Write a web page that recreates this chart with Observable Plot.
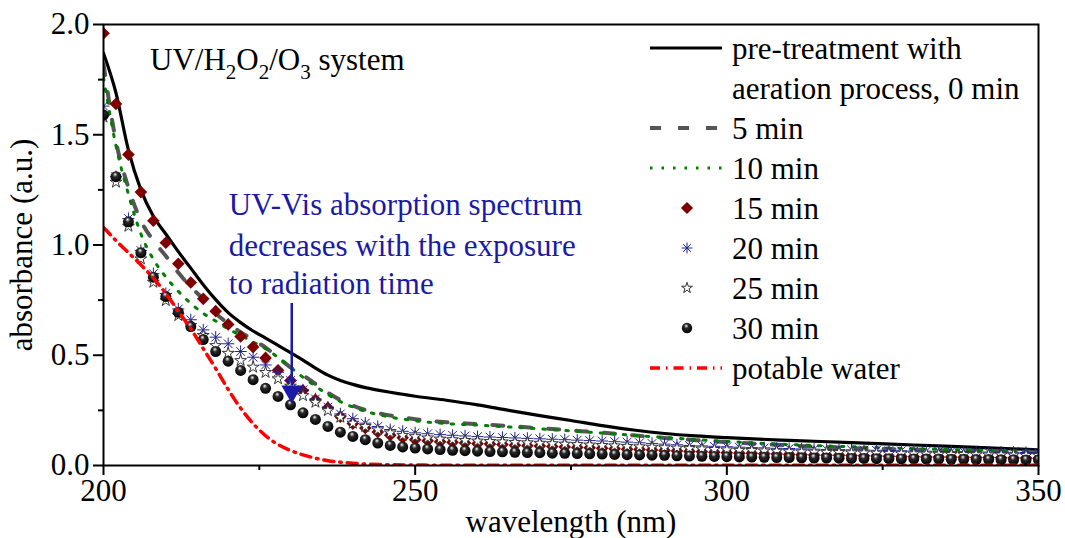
<!DOCTYPE html>
<html><head><meta charset="utf-8">
<script src="https://cdn.jsdelivr.net/npm/d3@7"></script>
<script src="https://cdn.jsdelivr.net/npm/@observablehq/plot@0.6"></script>
<style>body{margin:0;background:#fff;} #chart svg{display:block}</style>
</head><body><div id="chart"></div><script>
// ---- data ----
const wavelengthMarkers = [200,202,204,206,208,210,212,214,216,218,
  220,222,224,226,228,230,232,234,236,238,
  240,242,244,246,248,250,252,254,256,258,
  260,262,264,266,268,270,272,274,276,278,
  280,282,284,286,288,290,292,294,296,298,
  300,302,304,306,308,310,312,314,316,318,
  320,322,324,326,328,330,332,334,336,338,
  340,342,344,346,348,350];
const min15 = [1.96,1.64,1.41,1.24,1.11,1.01,0.915,0.83,0.756,0.70,
  0.64,0.585,0.537,0.488,0.432,0.385,0.34,0.298,0.262,0.222,
  0.19,0.17,0.152,0.137,0.126,0.117,0.112,0.108,0.105,0.102,
  0.099,0.097,0.095,0.092,0.09,0.088,0.086,0.084,0.082,0.08,
  0.078,0.076,0.074,0.072,0.07,0.068,0.066,0.064,0.062,0.06,
  0.058,0.056,0.055,0.053,0.052,0.05,0.049,0.048,0.047,0.046,
  0.045,0.044,0.043,0.042,0.041,0.04,0.039,0.039,0.038,0.037,
  0.036,0.036,0.035,0.034,0.034,0.033];
const min20 = [1.63,1.31,1.12,0.975,0.87,0.78,0.71,0.661,0.615,0.582,
  0.552,0.517,0.491,0.456,0.423,0.385,0.343,0.302,0.265,0.234,
  0.212,0.192,0.177,0.163,0.155,0.148,0.144,0.14,0.137,0.134,
  0.131,0.129,0.127,0.125,0.123,0.121,0.119,0.117,0.115,0.113,
  0.111,0.108,0.106,0.103,0.1,0.097,0.094,0.091,0.089,0.087,
  0.085,0.083,0.081,0.08,0.078,0.077,0.075,0.074,0.073,0.072,
  0.071,0.07,0.069,0.068,0.067,0.066,0.065,0.064,0.064,0.063,
  0.062,0.061,0.061,0.06,0.059,0.058];
const min25 = [1.58,1.285,1.085,0.937,0.831,0.748,0.68,0.635,0.59,0.544,
  0.509,0.476,0.446,0.422,0.393,0.36,0.317,0.287,0.249,0.219,
  0.192,0.177,0.162,0.148,0.137,0.131,0.125,0.12,0.117,0.114,
  0.111,0.109,0.107,0.105,0.103,0.101,0.099,0.097,0.095,0.093,
  0.091,0.089,0.087,0.085,0.083,0.081,0.079,0.077,0.075,0.073,
  0.071,0.069,0.068,0.066,0.065,0.063,0.062,0.061,0.06,0.059,
  0.058,0.057,0.056,0.055,0.054,0.053,0.052,0.051,0.05,0.05,
  0.049,0.048,0.048,0.047,0.046,0.046];
const min30 = [1.59,1.31,1.105,0.965,0.854,0.766,0.695,0.63,0.571,0.517,
  0.473,0.431,0.389,0.35,0.313,0.275,0.239,0.209,0.177,0.151,
  0.132,0.117,0.102,0.091,0.084,0.079,0.075,0.072,0.069,0.067,
  0.065,0.063,0.062,0.06,0.059,0.058,0.056,0.055,0.054,0.053,
  0.052,0.05,0.049,0.048,0.047,0.046,0.044,0.043,0.042,0.041,
  0.04,0.039,0.038,0.037,0.036,0.036,0.035,0.034,0.034,0.033,
  0.032,0.032,0.031,0.031,0.03,0.03,0.029,0.029,0.028,0.028,
  0.027,0.027,0.026,0.026,0.025,0.025];

const wavelengthLine0 = [200,202,204,206,208,210,212,214,216,218,220,222,224,226,228,230,232,234,236,238,240,242,244,246,248,250,255,260,265,270,275,280,285,290,295,300,310,320,330,340,350];
const min0 = [1.87,1.69,1.43,1.25,1.13,1.05,0.97,0.895,0.82,0.752,0.693,0.648,0.61,0.578,0.545,0.512,0.478,0.442,0.41,0.386,0.368,0.353,0.342,0.332,0.323,0.314,0.296,0.275,0.25,0.226,0.204,0.181,0.161,0.145,0.134,0.126,0.114,0.104,0.093,0.082,0.071];

const wavelengthLine5 = [200,202,204,206,208,210,212,214,216,218,220,222,224,226,228,230,232,234,236,238,240,242,245,250,255,260,265,270,275,280,285,290,295,300,310,320,330,340,350];
const min5 = [1.82,1.47,1.26,1.11,1.02,0.95,0.875,0.81,0.755,0.69,0.645,0.605,0.57,0.535,0.49,0.445,0.41,0.37,0.33,0.297,0.272,0.252,0.232,0.21,0.196,0.188,0.179,0.169,0.159,0.149,0.137,0.125,0.115,0.106,0.091,0.079,0.072,0.066,0.06];

const wavelengthLine10 = [200,202,204,206,208,210,212,214,216,218,220,222,224,226,228,230,232,234,236,238,240,245,250,255,260,270,280,290,300,310,320,330,340,350];
const min10 = [1.76,1.45,1.23,1.05,0.935,0.855,0.79,0.735,0.69,0.655,0.62,0.59,0.56,0.53,0.49,0.445,0.40,0.36,0.322,0.29,0.265,0.225,0.203,0.19,0.183,0.166,0.147,0.127,0.109,0.095,0.085,0.076,0.07,0.065];

const wavelengthPotable = [200,202,204,206,208,210,212,214,216,218,220,222,224,226,228,230,232,234,236,238,240,245,250,260,280,300,320,350];
const potable = [1.08,1.02,0.965,0.91,0.85,0.78,0.70,0.62,0.53,0.44,0.345,0.26,0.19,0.135,0.095,0.068,0.048,0.033,0.022,0.015,0.010,0.004,0.002,0.001,0.001,0.001,0.001,0.001];

const xTicks = [200, 250, 300, 350];
const xMinorTicks = [225, 275, 325];
const yTicks = [0, 0.5, 1.0, 1.5, 2.0];
const yMinorTicks = [0.25, 0.75, 1.25, 1.75];

const legendLabels = ["pre-treatment with", "aeration process, 0 min", "5 min", "10 min", "15 min", "20 min", "25 min", "30 min", "potable water"];
const annotationLines = ["UV-Vis absorption spectrum", "decreases with the exposure", "to radiation time"];
const annotationX = [220.1, 220.1, 220.1];
const annotationY = [1.134, 0.952, 0.776];
const arrowX = [230.2];
const arrowTop = [0.735];
const arrowBottom = [0.36];
const arrowHeadY = [0.336];

// ---- build tables ----
const zip = (xs, ys) => xs.map((x, i) => ({x, y: ys[i]}));
const d0 = zip(wavelengthLine0, min0);
const d5 = zip(wavelengthLine5, min5);
const d10 = zip(wavelengthLine10, min10);
const d15 = zip(wavelengthMarkers, min15);
const d20 = zip(wavelengthMarkers, min20);
const d25 = zip(wavelengthMarkers, min25);
const d30 = zip(wavelengthMarkers, min30);
const dPot = zip(wavelengthPotable, potable);
const annot = annotationLines.map((t, i) => ({t, x: annotationX[i], y: annotationY[i]}));
const arrow = arrowX.map((x, i) => ({x, y1: arrowTop[i], y2: arrowBottom[i], yh: arrowHeadY[i]}));

const BLUE = "#1a1aa6";
const ASTER = "#20209a";
const FONT = "'Liberation Serif', 'Times New Roman', serif";
const RED_DASH = "10,6,1.5,6";

const plot = Plot.plot({
  width: 1065, height: 538,
  marginLeft: 103, marginRight: 27, marginTop: 24, marginBottom: 73,
  x: {domain: [200, 350]},
  y: {domain: [0, 2]},
  style: {fontFamily: FONT, fontSize: "31px", color: "black", background: "white", overflow: "visible"},
  marks: [
    Plot.line(d0, {x: "x", y: "y", stroke: "black", strokeWidth: 3.2, curve: "monotone-x", clip: true}),
    Plot.line(d5, {x: "x", y: "y", stroke: "#555555", strokeWidth: 4, strokeDasharray: "11,17", curve: "monotone-x", clip: true}),
    Plot.line(d10, {x: "x", y: "y", stroke: "#008000", strokeWidth: 3, strokeDasharray: "2.5,9", curve: "monotone-x", clip: true}),
    Plot.dot(d15, {x: "x", y: "y", symbol: "diamond2", r: 5.7, fill: "#800000", stroke: "none", clip: true}),
    Plot.dot(d20, {x: "x", y: "y", symbol: "plus", r: 4, stroke: ASTER, strokeWidth: 1, clip: true}),
    Plot.dot(d20, {x: "x", y: "y", symbol: "times", r: 4, stroke: ASTER, strokeWidth: 1, clip: true}),
    Plot.dot(d25, {x: "x", y: "y", symbol: "star", r: 3.7, fill: "white", stroke: "#333", strokeWidth: 1, clip: true}),
    Plot.dot(d30, {x: "x", y: "y", r: 5.5, fill: "url(#ball)", stroke: "none", clip: true}),
    Plot.line(dPot, {x: "x", y: "y", stroke: "#ff0000", strokeWidth: 3.5, strokeDasharray: RED_DASH, curve: "monotone-x", clip: true}),
    Plot.ruleX(arrow, {x: "x", y1: "y1", y2: "y2", stroke: BLUE, strokeWidth: 2.5}),
    Plot.dot(arrow, {x: "x", y: "yh", symbol: "triangle", rotate: 180, r: 7.7, fill: BLUE, stroke: "none"}),
    Plot.text(annot, {x: "x", y: "y", text: "t", textAnchor: "start", lineAnchor: "bottom", fill: BLUE, fontSize: 31}),
    Plot.frame({stroke: "black", strokeWidth: 2}),
    Plot.axisX({ticks: xTicks, tickSize: 10, tickPadding: 3, strokeWidth: 2, fontSize: 31,
      label: "wavelength (nm)", labelAnchor: "center", labelOffset: 66, labelArrow: "none"}),
    Plot.axisX({ticks: xMinorTicks, tickSize: 5, strokeWidth: 2, text: null, label: null}),
    Plot.axisY({ticks: yTicks, tickSize: 10, tickPadding: 4, strokeWidth: 2, fontSize: 31, tickFormat: d3.format(".1f"),
      label: "absorbance (a.u.)", labelAnchor: "center", labelOffset: 94, labelArrow: "none"}),
    Plot.axisY({ticks: yMinorTicks, tickSize: 5, strokeWidth: 2, text: null, label: null})
  ]
});
document.getElementById("chart").appendChild(plot);

const svg = d3.select(plot);
// gradient for the sphere markers
const defs = svg.insert("defs", ":first-child");
const g = defs.append("radialGradient").attr("id", "ball").attr("cx", "0.45").attr("cy", "0.4").attr("r", "0.6").attr("fx", "0.42").attr("fy", "0.28");
g.append("stop").attr("offset", "0%").attr("stop-color", "#ffffff");
g.append("stop").attr("offset", "12%").attr("stop-color", "#b0b0b0");
g.append("stop").attr("offset", "35%").attr("stop-color", "#2a2a2a");
g.append("stop").attr("offset", "100%").attr("stop-color", "#000000");

// title with subscripts
const title = svg.append("text").attr("x", 150).attr("y", 70).attr("text-anchor", "start")
  .attr("font-family", FONT).attr("font-size", 31).attr("fill", "black");
const parts = [["UV/H", 0], ["2", 1], ["O", 0], ["2", 1], ["/O", 0], ["3", 1], [" system", 0]];
let sub = false;
for (const [t, s] of parts) {
  const ts = title.append("tspan").text(t);
  if (s && !sub) { ts.attr("dy", 9).attr("font-size", 21); sub = true; }
  else if (s) { ts.attr("font-size", 21); }
  else if (!s && sub) { ts.attr("dy", -9); sub = false; }
}

// legend
const leg = svg.append("g").attr("font-family", FONT).attr("font-size", 31).attr("text-anchor", "start");
const base0 = 59, step = 40, lx0 = 650, lx1 = 722, mx = 687, tx = 732;
legendLabels.forEach((lab, i) => {
  leg.append("text").attr("x", tx).attr("y", base0 + i * step).attr("text-anchor", "start").text(lab);
});
const rowY = i => base0 + i * step - 11;
const lineSample = (i, stroke, w, dash) => leg.append("line").attr("x1", lx0).attr("x2", lx1).attr("y1", rowY(i)).attr("y2", rowY(i))
  .attr("stroke", stroke).attr("stroke-width", w).attr("stroke-dasharray", dash || null);
lineSample(0, "black", 3.2);
lineSample(2, "#555555", 4, "11,17");
lineSample(3, "#008000", 3, "2.5,9");
lineSample(8, "#ff0000", 3.5, RED_DASH);
const sym = (type, r) => d3.symbol().type(type).size(Math.PI * r * r)();
leg.append("path").attr("d", sym(d3.symbolDiamond2, 5.5)).attr("transform", `translate(${mx},${rowY(4)})`).attr("fill", "#800000");
leg.append("path").attr("d", sym(d3.symbolPlus, 3.6)).attr("transform", `translate(${mx},${rowY(5)})`).attr("fill", "none").attr("stroke", ASTER);
leg.append("path").attr("d", sym(d3.symbolTimes, 3.6)).attr("transform", `translate(${mx},${rowY(5)})`).attr("fill", "none").attr("stroke", ASTER);
leg.append("path").attr("d", sym(d3.symbolStar, 3.4)).attr("transform", `translate(${mx},${rowY(6)})`).attr("fill", "white").attr("stroke", "#333");
leg.append("circle").attr("cx", mx).attr("cy", rowY(7)).attr("r", 5.2).attr("fill", "url(#ball)");
</script></body></html>
